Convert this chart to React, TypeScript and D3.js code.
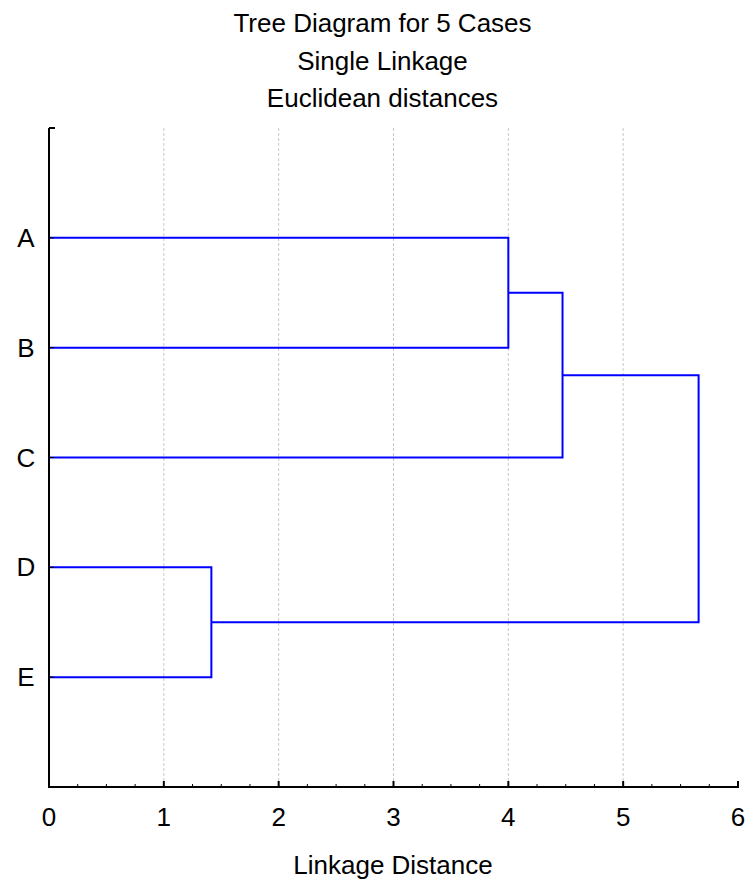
import React from "react";
import * as d3 from "d3";

const titleLines = ["Tree Diagram for 5 Cases", "Single Linkage", "Euclidean distances"];
const leaves = ["A", "B", "C", "D", "E"];
// merges: [left, right, name, height]
const mergeLeft = ["D", "A", "AB", "ABC"];
const mergeRight = ["E", "B", "C", "DE"];
const mergeName = ["DE", "AB", "ABC", "ROOT"];
const mergeHeight = [1.414, 4.0, 4.472, 5.657];
const xTicks = [0, 1, 2, 3, 4, 5, 6];
const xLabel = "Linkage Distance";

const W = 745;
const H = 881;
const left = 49;
const right = 738;
const top = 128;
const bottom = 787;

export default function App() {
  const x = d3.scaleLinear().domain([0, 6]).range([left, right]);
  const y = d3.scaleLinear().domain([0, leaves.length + 1]).range([top, bottom]);

  const nodeY: Record<string, number> = {};
  const nodeX: Record<string, number> = {};
  leaves.forEach((l, i) => {
    nodeY[l] = y(i + 1);
    nodeX[l] = x(0);
  });
  const paths: string[] = [];
  mergeName.forEach((n, i) => {
    const a = mergeLeft[i];
    const b = mergeRight[i];
    const hx = x(mergeHeight[i]);
    const p = d3.path();
    p.moveTo(nodeX[a], nodeY[a]);
    p.lineTo(hx, nodeY[a]);
    p.lineTo(hx, nodeY[b]);
    p.lineTo(nodeX[b], nodeY[b]);
    paths.push(p.toString());
    nodeY[n] = (nodeY[a] + nodeY[b]) / 2;
    nodeX[n] = hx;
  });

  const minor = d3.range(0, 6.001, 0.25).filter((v) => Math.abs(v - Math.round(v)) > 1e-6);
  const font = "Arial, 'Liberation Sans', sans-serif";
  const fs = 26;

  return (
    <svg width={W} height={H} style={{ position: "absolute", left: 0, top: 0 }} fontFamily={font}>
      <rect width={W} height={H} fill="#fff" />
      {titleLines.map((t, i) => (
        <text key={t} x={382.5} y={32 + i * 37.5} textAnchor="middle" fontSize={fs} fill="#000">
          {t}
        </text>
      ))}
      {xTicks.slice(1, -1).map((t) => (
        <line key={"g" + t} x1={x(t)} x2={x(t)} y1={top} y2={bottom} stroke="#c8c8c8" strokeWidth={1} strokeDasharray="3,2" />
      ))}
      {paths.map((d, i) => (
        <path key={i} d={d} fill="none" stroke="#0000ff" strokeWidth={2} />
      ))}
      {/* axes */}
      <line x1={left} x2={left} y1={top} y2={bottom + 1} stroke="#000" strokeWidth={2} />
      <line x1={left} x2={left + 6} y1={top} y2={top} stroke="#000" strokeWidth={2} />
      <line x1={left - 1} x2={right + 1} y1={bottom} y2={bottom} stroke="#000" strokeWidth={2} />
      {xTicks.map((t) => (
        <line key={"t" + t} x1={x(t)} x2={x(t)} y1={bottom} y2={bottom - 6} stroke="#000" strokeWidth={2} />
      ))}
      {minor.map((t) => (
        <line key={"m" + t} x1={x(t)} x2={x(t)} y1={bottom} y2={bottom - 3} stroke="#000" strokeWidth={1} />
      ))}
      {leaves.map((l, i) => (
        <line key={"lt" + l} x1={left} x2={left + 5} y1={y(i + 1)} y2={y(i + 1)} stroke="#000" strokeWidth={1} />
      ))}
      {xTicks.map((t) => (
        <text key={"xl" + t} x={x(t)} y={826} textAnchor="middle" fontSize={fs} fill="#000">
          {t}
        </text>
      ))}
      {leaves.map((l, i) => (
        <text key={"yl" + l} x={26} y={y(i + 1) + 9} textAnchor="middle" fontSize={fs} fill="#000">
          {l}
        </text>
      ))}
      <text x={393} y={874} textAnchor="middle" fontSize={fs} fill="#000">
        {xLabel}
      </text>
    </svg>
  );
}
